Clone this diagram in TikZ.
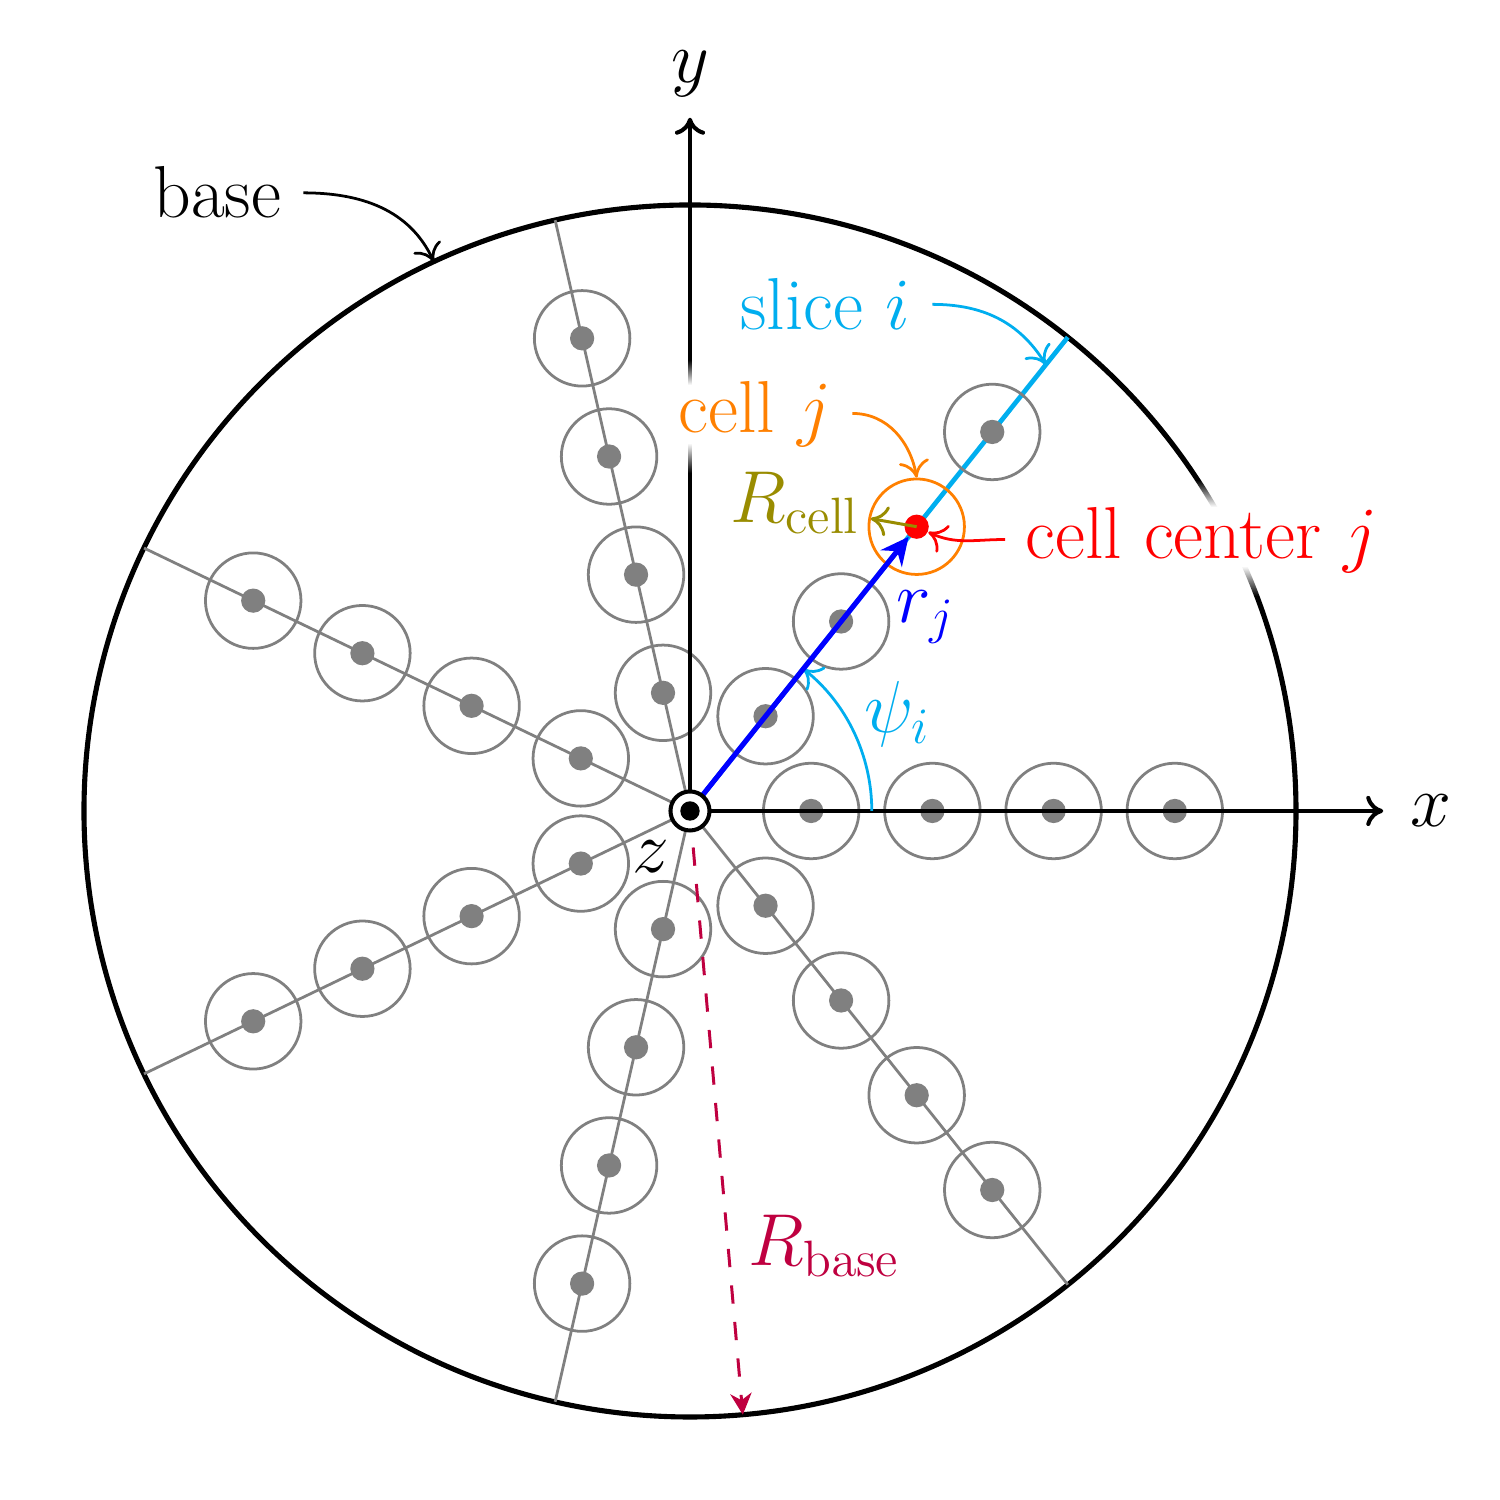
\documentclass[tikz,border=0pt]{standalone}
\usetikzlibrary{arrows.meta,fadings,calc}
\definecolor{sliceblue}{RGB}{0,174,239}
\definecolor{cellorange}{RGB}{255,128,0}
\definecolor{radiusolive}{RGB}{153,140,0}
\definecolor{basepurple}{RGB}{191,0,64}
\tikzfading[name=haloup, bottom color=transparent!0, top color=transparent!100]
\tikzfading[name=halodown, top color=transparent!0, bottom color=transparent!100]
\tikzset{
  cmtip/.tip={Computer Modern Rightarrow[width=7.1pt,length=4pt]},
  basering/.style={draw=black,line width=1.2pt},
  rayline/.style={draw=gray,line width=0.65pt},
  cellring/.style={circle,draw=gray,line width=0.65pt,inner sep=0pt,minimum size=0.788cm},
  celldot/.style={circle,fill=gray,inner sep=0pt,minimum size=0.2cm},
  axisline/.style={draw=black,line width=0.95pt,-cmtip},
  callout/.style={line width=0.65pt,-cmtip},
  lbl/.style={font=\LARGE,inner sep=0pt},
  halo/.style={fill=white,draw=none}
}
\begin{document}
\begin{tikzpicture}
\useasboundingbox[fill=white] (-5.693,-5.685) rectangle (6.683,6.691);
\coordinate (o) at (0,0);
\coordinate (baseend) at (115:5);
\coordinate (xtip) at (5.72,0);
\coordinate (ytip) at (0,5.72);
% base disc and rays
\draw[basering] (o) circle (5);
\foreach \k in {0,2,3,4,5,6}{
  \pgfmathsetmacro{\a}{\k*360/7}
  \coordinate (rayend\k) at (\a:5);
  \draw[rayline] (o) -- (rayend\k);
  \foreach \r in {1,2,3,4}{
    \node[cellring] (ring\k\r) at (\a:\r) {};
    \node[celldot] (dot\k\r) at (\a:\r) {};
  }
}
% selected slice
\coordinate (sliceend) at ({360/7}:5);
\coordinate (slicetip) at ({360/7}:4.71);
\draw[sliceblue,line width=1.1pt] (o) -- (sliceend);
\foreach \r in {1,2,4}{
  \node[cellring] (ring1\r) at ({360/7}:\r) {};
  \node[celldot] (dot1\r) at ({360/7}:\r) {};
}
\node[cellring,draw=cellorange] (cellj) at ({360/7}:3) {};
\node[celldot,fill=red] (centerj) at ({360/7}:3) {};
% axes
\draw[axisline] (o) -- (xtip);
\draw[axisline] (o) -- (ytip);
% text halos
\fill[white,path fading=haloup] (-0.05,3.515) rectangle (0.05,3.721);
\fill[halo] (-0.05,3.036) rectangle (0.05,3.515);
\fill[white,path fading=halodown] (-0.05,2.789) rectangle (0.05,3.036);
\fill[white,path fading=haloup] (4.125,2.508) rectangle (4.785,2.731);
\fill[halo] (4.125,2.021) rectangle (4.785,2.508);
\fill[white,path fading=halodown] (4.125,1.774) rectangle (4.785,2.021);
% radius of the base
\coordinate (rbaseend) at (-85:5);
\draw[basepurple,line width=0.7pt,dash pattern=on 4.3pt off 4.3pt,-{Stealth[length=5pt,width=5pt,inset=1.6pt]}] (o) -- (rbaseend);
% angle
\coordinate (psistart) at (1.5,0);
\draw[sliceblue,callout] (psistart) arc[start angle=0,end angle={360/7},radius=1.5];
% position vector
\draw[blue,line width=1.2pt,-{Stealth[length=6.5pt,width=6.3pt,inset=2.2pt]}] (o) -- (centerj);
% cell radius
\coordinate (rcellend) at ($(centerj.center)+(170:0.385)$);
\draw[radiusolive,line width=0.7pt,-cmtip] (centerj.center) -- (rcellend);
% origin marker
\node[circle,draw=black,fill=white,line width=0.95pt,inner sep=0pt,minimum size=0.322cm] (zmark) at (o) {};
\node[circle,fill=black,inner sep=0pt,minimum size=0.16cm] (zdot) at (o) {};
% labels
\node[lbl] (xlabel) at (6.11,0.005) {$x$};
\node[lbl] (ylabel) at (0,6.08) {$y$};
\node[lbl] (zlabel) at (-0.32,-0.38) {$z$};
\node[lbl] (baselabel) at (-3.9,5.105) {base};
\node[lbl,text=sliceblue] (slicelabel) at (1.115,4.18) {slice $i$};
\node[lbl,text=cellorange] (celllabel) at (0.535,3.275) {cell $j$};
\node[lbl,text=radiusolive] (rcelllabel) at (0.87,2.54) {$R_{\mathrm{cell}}$};
\node[lbl,text=red] (centerlabel) at (4.22,2.235) {cell center $j$};
\node[lbl,text=blue] (rlabel) at (1.945,1.60) {$r_j$};
\node[lbl,text=sliceblue] (psilabel) at (1.71,0.80) {$\psi_i$};
\node[lbl,text=basepurple] (rbaselabel) at (1.11,-3.585) {$R_{\mathrm{base}}$};
% callouts
\coordinate (baseout) at (-3.19,5.10);
\coordinate (sliceout) at (2.0,4.18);
\coordinate (cellout) at (1.34,3.28);
\coordinate (centerout) at (2.6,2.24);
\draw[black,callout] (baseout) to[out=0,in=115] (baseend);
\draw[sliceblue,callout] (sliceout) to[out=0,in=122] (slicetip);
\draw[cellorange,callout] (cellout) to[out=0,in=100] (cellj.north);
\draw[red,callout] (centerout) to[out=180,in=-25] (centerj.-25);
\end{tikzpicture}
\end{document}
